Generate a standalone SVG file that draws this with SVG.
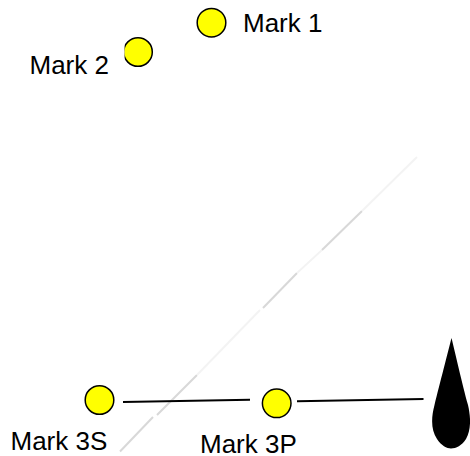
<svg xmlns="http://www.w3.org/2000/svg" width="470" height="456" viewBox="0 0 470 456">
<defs><clipPath id="c2"><rect x="124.600" y="30" width="40" height="44"/></clipPath></defs>
<style>
.m{fill:#ffff00;stroke:#000;stroke-width:1.5}
.t{font-family:"Liberation Sans",Arial,sans-serif;font-size:26px;fill:#000}
.l{stroke:#000;stroke-width:2;fill:none}
.d{stroke:#d8d8d8;stroke-width:2;fill:none}
.f{stroke:#f3f3f3;stroke-width:1.800;fill:none}
</style>
<rect width="470" height="456" fill="#fff"/>
<g id="connectors">
<path class="d" d="M120 451.500L153 417M157 415L197 375"/>
<path class="f" d="M197 375L260 310"/>
<path class="d" d="M263 308L297 273"/>
<path class="f" d="M297 273L322 250"/>
<path class="d" d="M322 250L362 211"/>
<path class="f" d="M362 211L417 157"/>
<path class="l" d="M123 402L250 399.700"/>
<path class="l" d="M297 401.300L423.500 399"/>
</g>
<g id="mark1"><circle class="m" cx="211.500" cy="22.700" r="14.300"/><text class="t" x="243" y="32">Mark 1</text></g>
<g id="mark2"><circle class="m" cx="138" cy="52" r="14.300" clip-path="url(#c2)"/><text class="t" x="29.500" y="74">Mark 2</text></g>
<g id="mark3s"><circle class="m" cx="99.500" cy="400" r="14.300"/><text class="t" x="10.500" y="450">Mark 3S</text></g>
<g id="mark3p"><circle class="m" cx="276.700" cy="403.300" r="14.300"/><text class="t" x="200" y="453">Mark 3P</text></g>
<g id="drop"><path fill="#000" d="M451.500 338C448 352 440 383 434.500 405C431 418 431 430 437 439C441 445.500 447 448.500 451 448.500C456 448.500 462 445.500 466 439C471 430 471 418 468 405C462 383 455 352 451.500 338Z"/></g>
</svg>
